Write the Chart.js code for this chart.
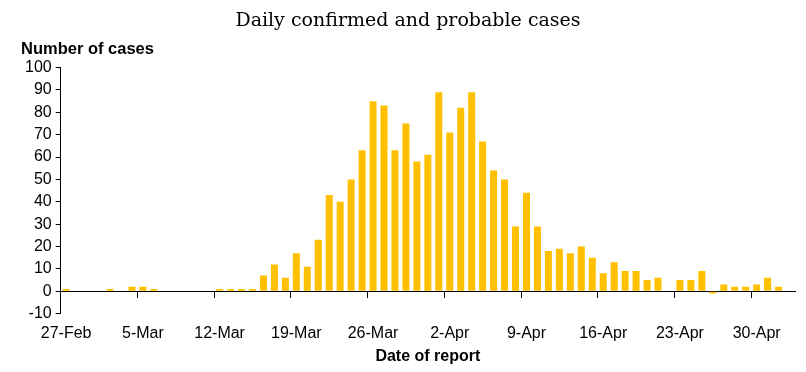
<!DOCTYPE html>
<html>
<head>
<meta charset="utf-8">
<script src="https://cdn.jsdelivr.net/npm/chart.js@4"></script>
<style>
  body { margin: 0; background: #fff; }
</style>
</head>
<body>
<canvas id="myChart" width="806" height="372"></canvas>
<script>
// report dates, 27 Feb to 3 May (2020)
const dates = [
  "27-Feb", "28-Feb", "29-Feb",
  "1-Mar", "2-Mar", "3-Mar", "4-Mar", "5-Mar", "6-Mar", "7-Mar", "8-Mar", "9-Mar", "10-Mar",
  "11-Mar", "12-Mar", "13-Mar", "14-Mar", "15-Mar", "16-Mar", "17-Mar", "18-Mar", "19-Mar", "20-Mar",
  "21-Mar", "22-Mar", "23-Mar", "24-Mar", "25-Mar", "26-Mar", "27-Mar", "28-Mar", "29-Mar", "30-Mar", "31-Mar",
  "1-Apr", "2-Apr", "3-Apr", "4-Apr", "5-Apr", "6-Apr", "7-Apr", "8-Apr", "9-Apr", "10-Apr",
  "11-Apr", "12-Apr", "13-Apr", "14-Apr", "15-Apr", "16-Apr", "17-Apr", "18-Apr", "19-Apr", "20-Apr",
  "21-Apr", "22-Apr", "23-Apr", "24-Apr", "25-Apr", "26-Apr", "27-Apr", "28-Apr", "29-Apr", "30-Apr",
  "1-May", "2-May", "3-May"
];

const cases = [
  1, 0, 0,
  0, 1, 0, 2, 2, 1, 0, 0, 0, 0,
  0, 1, 1, 1, 1, 7, 12, 6, 17, 11,
  23, 43, 40, 50, 63, 85, 83, 63, 75, 58, 61,
  89, 71, 82, 89, 67, 54, 50, 29, 44, 29,
  18, 19, 17, 20, 15, 8, 13, 9, 9, 5,
  6, 0, 5, 5, 9, -1, 3, 2, 2, 3,
  6, 2, 0
];

const yMin = -10;
const yMax = 100;
const yStep = 10;
const labelEvery = 7;

const sans = "'Liberation Sans', Arial, sans-serif";

new Chart("myChart", {
  type: "bar",
  data: {
    labels: dates,
    datasets: [
      {
        data: cases,
        backgroundColor: "#FFC000",
        borderWidth: 0,
        barPercentage: 0.64,
        categoryPercentage: 1.0,
        xAxisID: "x",
      },
    ],
  },
  options: {
    responsive: false,
    animation: false,
    layout: { padding: { left: 21, right: 11, top: 6, bottom: 6 } },
    plugins: {
      legend: { display: false },
      tooltip: { enabled: false },
      title: {
        display: true,
        text: "Daily confirmed and probable cases",
        color: "#000",
        font: { family: "'DejaVu Serif', serif", size: 19, weight: "normal" },
        padding: { top: 4, bottom: 7 },
      },
      subtitle: {
        display: true,
        text: "Number of cases",
        align: "start",
        color: "#000",
        font: { family: sans, size: 16.5, weight: "bold" },
        padding: { top: 0, bottom: 8 },
      },
    },
    scales: {
      x: {
        type: "category",
        position: "bottom",
        offset: true,
        grid: { display: false, drawTicks: false },
        border: { display: false },
        ticks: {
          autoSkip: false,
          maxRotation: 0,
          color: "#000",
          padding: 10,
          font: { family: sans, size: 16 },
          callback: function (val, i) {
            return i % labelEvery === 0 ? this.getLabelForValue(val) : "";
          },
        },
        title: {
          display: true,
          text: "Date of report",
          color: "#000",
          font: { family: sans, size: 16, weight: "bold" },
          padding: { top: -6, bottom: 0 },
        },
      },
      // zero line with the weekly tick marks
      x2: {
        type: "category",
        labels: dates,
        position: { y: 0 },
        offset: true,
        grid: {
          offset: true,
          drawOnChartArea: false,
          tickLength: 6,
          tickColor: (ctx) => (ctx.index % labelEvery === 0 ? "#000" : "rgba(0,0,0,0)"),
        },
        border: { color: "#000", width: 1 },
        ticks: { display: false },
      },
      y: {
        min: yMin,
        max: yMax,
        grid: { drawOnChartArea: false, tickLength: 5, tickColor: "#000" },
        border: { color: "#000", width: 1 },
        ticks: {
          stepSize: yStep,
          autoSkip: false,
          color: "#000",
          padding: 4,
          font: { family: sans, size: 16 },
        },
      },
    },
  },
});
</script>
</body>
</html>
